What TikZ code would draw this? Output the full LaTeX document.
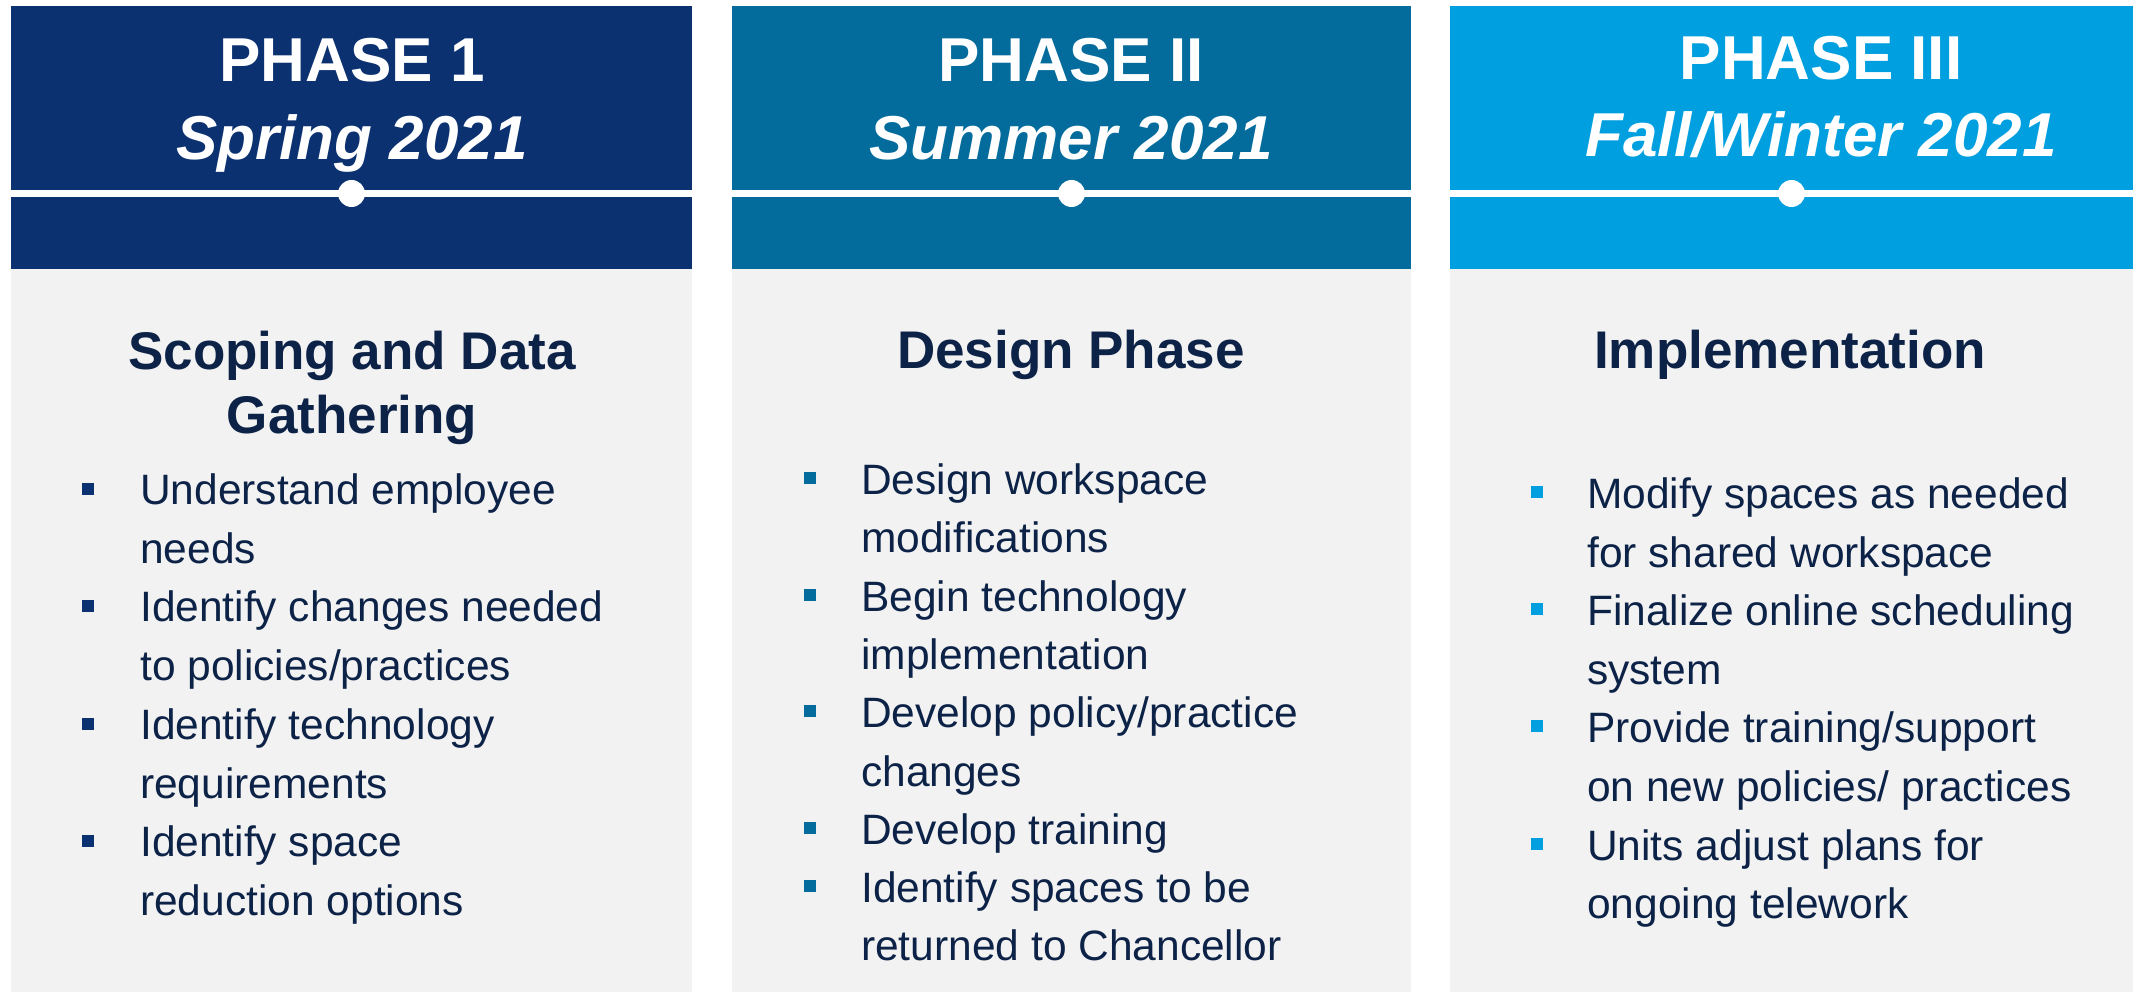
\documentclass[tikz,border=0pt]{standalone}
\usepackage{fontspec}
\setmainfont{Liberation Sans}
\definecolor{navyhead}{HTML}{0B3170}
\definecolor{tealhead}{HTML}{046C9C}
\definecolor{skyhead}{HTML}{009FDF}
\definecolor{panelgray}{HTML}{F2F2F2}
\definecolor{inktext}{HTML}{0C2247}
\begin{document}
\begin{tikzpicture}[x=1pt,y=-1pt,
  headtxt/.style={text=white,inner sep=0,anchor=base,font=\fontsize{62}{62}\selectfont\bfseries},
  datetxt/.style={text=white,inner sep=0,anchor=base,font=\fontsize{62}{62}\selectfont\bfseries\itshape},
  titletxt/.style={text=inktext,inner sep=0,anchor=base,font=\fontsize{53}{53}\selectfont\bfseries},
  itemtxt/.style={text=inktext,inner sep=0,anchor=base west,font=\fontsize{42.5}{42.5}\selectfont},
  bulletsq/.style={fill=#1,draw=none,inner sep=0,minimum size=12,anchor=center},
  timeline/.style={white,line width=7},
  dot/.style={circle,fill=white,inner sep=0,minimum size=27}]
\useasboundingbox (0,0) rectangle (2133,992);

% column panels: coloured header over a grey body
\fill[panelgray] (11,269) rectangle (692,992);
\fill[panelgray] (732,269) rectangle (1411,992);
\fill[panelgray] (1450,269) rectangle (2133,992);
\fill[navyhead] (11,6) rectangle (692,269);
\fill[tealhead] (732,6) rectangle (1411,269);
\fill[skyhead] (1450,6) rectangle (2133,269);

% timeline strip with a marker per phase
\coordinate (l1) at (11,193.5);   \coordinate (r1) at (692,193.5);
\coordinate (l2) at (732,193.5);  \coordinate (r2) at (1411,193.5);
\coordinate (l3) at (1450,193.5); \coordinate (r3) at (2133,193.5);
\draw[timeline] (l1) -- (r1);
\draw[timeline] (l2) -- (r2);
\draw[timeline] (l3) -- (r3);
\node[dot] (d1) at (351.5,193.5) {};
\node[dot] (d2) at (1071.5,193.5) {};
\node[dot] (d3) at (1791.5,193.5) {};

% header labels
\node[headtxt] (p1) at (352,82) {PHASE 1};
\node[datetxt] (s1) at (352,160) {Spring 2021};
\node[headtxt] (p2) at (1071,82) {PHASE II};
\node[datetxt] (s2) at (1071,160) {Summer 2021};
\node[headtxt] (p3) at (1821,80) {PHASE III};
\node[datetxt] (s3) at (1821,157) {Fall/Winter 2021};

% section titles
\node[titletxt] (t1a) at (352,369) {Scoping and Data};
\node[titletxt] (t1b) at (352,433) {Gathering};
\node[titletxt] (t2) at (1071,368) {Design Phase};
\node[titletxt] (t3) at (1790,368) {Implementation};

% phase 1 items
\node[bulletsq=navyhead] (b1a) at (88,489) {};
\node[bulletsq=navyhead] (b1b) at (88,606) {};
\node[bulletsq=navyhead] (b1c) at (88,724) {};
\node[bulletsq=navyhead] (b1d) at (88,841) {};
\node[itemtxt] (a1) at (140,504) {Understand employee};
\node[itemtxt] (a2) at (140,563) {needs};
\node[itemtxt] (a3) at (140,621) {Identify changes needed};
\node[itemtxt] (a4) at (140,680) {to policies/practices};
\node[itemtxt] (a5) at (140,739) {Identify technology};
\node[itemtxt] (a6) at (140,798) {requirements};
\node[itemtxt] (a7) at (140,856) {Identify space};
\node[itemtxt] (a8) at (140,915) {reduction options};

% phase 2 items
\node[bulletsq=tealhead] (b2a) at (810,478) {};
\node[bulletsq=tealhead] (b2b) at (810,595) {};
\node[bulletsq=tealhead] (b2c) at (810,711) {};
\node[bulletsq=tealhead] (b2d) at (810,828) {};
\node[bulletsq=tealhead] (b2e) at (810,886) {};
\node[itemtxt] (c1) at (861,494) {Design workspace};
\node[itemtxt] (c2) at (861,552) {modifications};
\node[itemtxt] (c3) at (861,611) {Begin technology};
\node[itemtxt] (c4) at (861,669) {implementation};
\node[itemtxt] (c5) at (861,727) {Develop policy/practice};
\node[itemtxt] (c6) at (861,786) {changes};
\node[itemtxt] (c7) at (861,844) {Develop training};
\node[itemtxt] (c8) at (861,902) {Identify spaces to be};
\node[itemtxt] (c9) at (861,960) {returned to Chancellor};

% phase 3 items
\node[bulletsq=skyhead] (b3a) at (1537,492) {};
\node[bulletsq=skyhead] (b3b) at (1537,609) {};
\node[bulletsq=skyhead] (b3c) at (1537,726) {};
\node[bulletsq=skyhead] (b3d) at (1537,844) {};
\node[itemtxt] (e1) at (1587,508) {Modify spaces as needed};
\node[itemtxt] (e2) at (1587,567) {for shared workspace};
\node[itemtxt] (e3) at (1587,625) {Finalize online scheduling};
\node[itemtxt] (e4) at (1587,684) {system};
\node[itemtxt] (e5) at (1587,742) {Provide training/support};
\node[itemtxt] (e6) at (1587,801) {on new policies/ practices};
\node[itemtxt] (e7) at (1587,860) {Units adjust plans for};
\node[itemtxt] (e8) at (1587,918) {ongoing telework};
\end{tikzpicture}
\end{document}
